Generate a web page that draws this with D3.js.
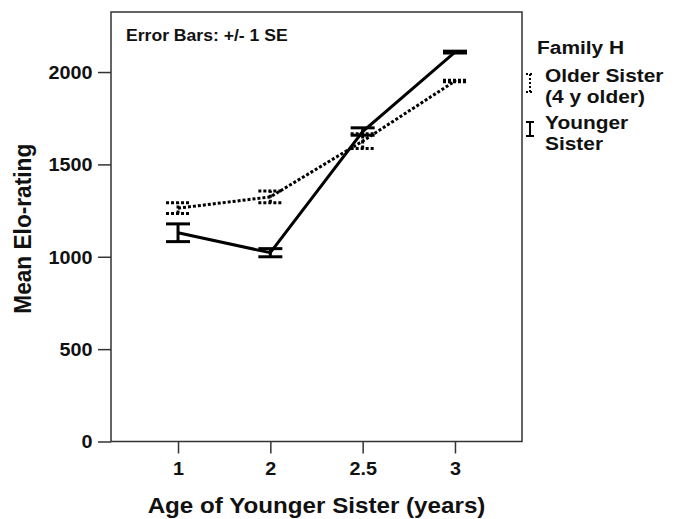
<!DOCTYPE html>
<html>
<head>
<meta charset="utf-8">
<script src="https://cdn.jsdelivr.net/npm/d3@7"></script>
<style>
    body { margin: 0; background: #fff; }
    text { font-family: "Liberation Sans", Arial, sans-serif; font-weight: bold; fill: #111; }
</style>
</head>
<body>
<div id="chart"></div>
<script>
// data
var ages = ["1", "2", "2.5", "3"];
var youngerMean = [1130, 1022, 1678, 2108];
var youngerSE = [48, 22, 20, 5];
var olderMean = [1263, 1324, 1626, 1951];
var olderSE = [29, 32, 40, 4];
var yTicks = [0, 500, 1000, 1500, 2000];
var legendTitle = "Family H";
var legendLabels = [["Older Sister", "(4 y older)"], ["Younger", "Sister"]];

var width = 676, height = 519;
var margin = {left: 111, top: 12, right: 154, bottom: 77.5};
var plotW = width - margin.left - margin.right;
var plotH = height - margin.top - margin.bottom;
// the original lettering is a bit wider than Arial
var stretch = 1.1;

var svg = d3.select("#chart")
    .append("svg")
    .attr("width", width)
    .attr("height", height);

var g = svg.append("g")
    .attr("transform", "translate(" + margin.left + "," + margin.top + ")");

function wideText(parent, x, y, size, txt) {
    return parent.append("text")
        .attr("transform", "translate(" + x + "," + y + ")scale(" + stretch + ",1)")
        .attr("font-size", size)
        .text(txt);
}

var xScale = d3.scalePoint()
    .domain(ages)
    .range([0, plotW])
    .padding(0.726);

var yScale = d3.scaleLinear()
    .domain([0, 2325])
    .range([plotH, 0]);

// frame
g.append("rect")
    .attr("width", plotW)
    .attr("height", plotH)
    .attr("fill", "none")
    .attr("stroke", "#333")
    .attr("stroke-width", 1.5);

var yAxis = d3.axisLeft(yScale).tickValues(yTicks).tickSize(13).tickPadding(5).tickFormat(d3.format("d"));
var xAxis = d3.axisBottom(xScale).tickSize(12).tickPadding(9);

var ya = g.append("g").attr("class", "y axis").call(yAxis);
var xa = g.append("g").attr("class", "x axis")
    .attr("transform", "translate(0," + plotH + ")")
    .call(xAxis);

[ya, xa].forEach(function(a) {
    a.select(".domain").remove();
    a.selectAll("line").attr("stroke", "#333").attr("stroke-width", 1.5);
    a.selectAll("text")
        .attr("font-size", 18)
        .attr("fill", "#111")
        .attr("transform", "scale(" + stretch + ",1)");
});
ya.selectAll("text").attr("dy", "0.36em").attr("x", -18.5 / stretch);
xa.selectAll("text").attr("dy", "0.71em");

// series
var series = [
    {mean: olderMean, se: olderSE, dash: "3,2"},
    {mean: youngerMean, se: youngerSE, dash: null}
];

var line = d3.line()
    .x(function(d, i) { return xScale(ages[i]); })
    .y(function(d) { return yScale(d); });

series.forEach(function(s) {
    g.append("path")
        .attr("d", line(s.mean))
        .attr("fill", "none")
        .attr("stroke", "#000")
        .attr("stroke-width", 3)
        .attr("stroke-dasharray", s.dash);

    var bars = g.append("g").selectAll("g")
        .data(s.mean)
        .enter().append("g")
        .attr("stroke", "#000")
        .attr("stroke-width", 3)
        .attr("stroke-dasharray", s.dash);

    bars.append("line")
        .attr("x1", function(d, i) { return xScale(ages[i]); })
        .attr("x2", function(d, i) { return xScale(ages[i]); })
        .attr("y1", function(d, i) { return yScale(d - s.se[i]); })
        .attr("y2", function(d, i) { return yScale(d + s.se[i]); });

    [-1, 1].forEach(function(sign) {
        bars.append("line")
            .attr("x1", function(d, i) { return xScale(ages[i]) - 12; })
            .attr("x2", function(d, i) { return xScale(ages[i]) + 12; })
            .attr("y1", function(d, i) { return yScale(d + sign * s.se[i]); })
            .attr("y2", function(d, i) { return yScale(d + sign * s.se[i]); });
    });
});

wideText(g, 15, 28.5, 16, "Error Bars: +/- 1 SE");

// axis titles
g.append("text")
    .attr("text-anchor", "middle")
    .attr("transform", "translate(" + (-80) + "," + (plotH / 2 + 2) + ")rotate(-90)scale(1.03," + stretch + ")")
    .attr("font-size", 22)
    .text("Mean Elo-rating");

wideText(g, plotW / 2, plotH + 71, 22, "Age of Younger Sister (years)")
    .attr("text-anchor", "middle");

// legend
var legend = svg.append("g")
    .attr("transform", "translate(" + (margin.left + plotW) + ",0)");

wideText(legend, 15, 54, 19, legendTitle);

var legendY = [[82, 103], [129, 150]];
var symY = [83, 129];
var symH = [9, 7];
legendLabels.forEach(function(lines, k) {
    lines.forEach(function(l, j) {
        wideText(legend, 23, legendY[k][j], 19, l);
    });
    var cy = symY[k], hh = symH[k];
    var sym = legend.append("g")
        .attr("stroke", "#000")
        .attr("stroke-width", 2)
        .attr("stroke-dasharray", k == 0 ? "2,2" : null);
    sym.append("line").attr("x1", 8).attr("x2", 8).attr("y1", cy - hh).attr("y2", cy + hh);
    sym.append("line").attr("x1", 4).attr("x2", 12).attr("y1", cy - hh).attr("y2", cy - hh);
    sym.append("line").attr("x1", 4).attr("x2", 12).attr("y1", cy + hh).attr("y2", cy + hh);
});
</script>
</body>
</html>
